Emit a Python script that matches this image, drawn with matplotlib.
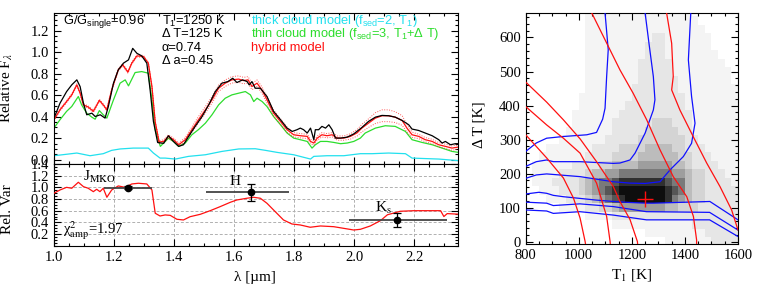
import numpy as np
import matplotlib
matplotlib.use('Agg')
import matplotlib.pyplot as plt
from matplotlib.ticker import MultipleLocator
from matplotlib.colors import ListedColormap, BoundaryNorm

plt.rcParams['font.family'] = ['Liberation Serif', 'DejaVu Serif']
plt.rcParams['mathtext.fontset'] = 'custom'
plt.rcParams['mathtext.rm'] = 'Liberation Sans'
plt.rcParams['mathtext.it'] = 'Liberation Sans:italic'
plt.rcParams['mathtext.bf'] = 'Liberation Sans:bold'

# ---------------- data: spectra ----------------
obs_wl = [1.0, 1.02, 1.042, 1.059, 1.076, 1.087, 1.098, 1.109, 1.126, 1.137, 1.154, 1.17, 1.181, 1.198,
          1.214, 1.231, 1.248, 1.262, 1.276, 1.292, 1.309, 1.32, 1.331, 1.345, 1.365, 1.381, 1.398, 1.415,
          1.431, 1.448, 1.47, 1.493, 1.515, 1.537, 1.559, 1.579, 1.595, 1.609, 1.628, 1.643, 1.65, 1.659,
          1.67, 1.687, 1.709, 1.731, 1.754, 1.776, 1.793, 1.809, 1.82, 1.831, 1.843, 1.854, 1.865, 1.87,
          1.881, 1.892, 1.904, 1.915, 1.926, 1.937, 1.954, 1.976, 1.998, 2.025, 2.047, 2.07, 2.092, 2.114,
          2.136, 2.159, 2.181, 2.192, 2.214, 2.236, 2.259, 2.281, 2.292, 2.303, 2.32, 2.336, 2.347]
obs_flux = [0.387, 0.526, 0.634, 0.696, 0.743, 0.68, 0.526, 0.418, 0.433, 0.402, 0.418, 0.387, 0.495, 0.712,
            0.836, 0.898, 0.929, 1.036, 0.99, 0.966, 0.898, 0.65, 0.356, 0.16, 0.152, 0.223, 0.169, 0.124,
            0.139, 0.216, 0.31, 0.402, 0.51, 0.634, 0.712, 0.727, 0.758, 0.718, 0.743, 0.727, 0.696, 0.727,
            0.665, 0.665, 0.588, 0.45, 0.372, 0.294, 0.263, 0.279, 0.294, 0.279, 0.248, 0.294, 0.186, 0.279,
            0.279, 0.31, 0.294, 0.325, 0.279, 0.201, 0.201, 0.21, 0.24, 0.30, 0.356, 0.396, 0.412, 0.409,
            0.396, 0.365, 0.325, 0.285, 0.272, 0.248, 0.223, 0.186, 0.155, 0.17, 0.139, 0.149, 0.149]

hyb_wl = [1.0, 1.02, 1.042, 1.059, 1.076, 1.087, 1.098, 1.114, 1.131, 1.151, 1.164, 1.176, 1.192, 1.214,
          1.229, 1.246, 1.259, 1.276, 1.298, 1.314, 1.326, 1.337, 1.35, 1.365, 1.381, 1.398, 1.415, 1.437,
          1.459, 1.481, 1.504, 1.526, 1.548, 1.57, 1.592, 1.615, 1.631, 1.646, 1.659, 1.676, 1.693, 1.709,
          1.731, 1.754, 1.776, 1.798, 1.82, 1.843, 1.854, 1.865, 1.876, 1.892, 1.909, 1.926, 1.943, 1.965,
          1.987, 2.009, 2.025, 2.047, 2.07, 2.092, 2.114, 2.136, 2.159, 2.175, 2.192, 2.214, 2.236, 2.259,
          2.281, 2.303, 2.325, 2.347]
hyb_flux = [0.372, 0.464, 0.541, 0.603, 0.696, 0.619, 0.51, 0.49, 0.45, 0.552, 0.51, 0.464, 0.65, 0.836,
            0.882, 0.815, 0.898, 0.966, 0.96, 0.898, 0.681, 0.35, 0.165, 0.17, 0.217, 0.186, 0.139, 0.186,
            0.279, 0.372, 0.464, 0.557, 0.665, 0.712, 0.743, 0.75, 0.736, 0.743, 0.681, 0.712, 0.645, 0.557,
            0.433, 0.356, 0.279, 0.232, 0.223, 0.217, 0.17, 0.155, 0.2, 0.232, 0.223, 0.232, 0.201, 0.201,
            0.217, 0.25, 0.294, 0.34, 0.387, 0.409, 0.409, 0.396, 0.365, 0.294, 0.232, 0.217, 0.186, 0.17,
            0.139, 0.124, 0.108, 0.118]
hyb_err = [0.01, 0.01, 0.01, 0.01, 0.01, 0.01, 0.01, 0.01, 0.01, 0.01, 0.01, 0.01, 0.01, 0.01,
           0.01, 0.01, 0.01, 0.01, 0.01, 0.01, 0.01, 0.01, 0.012, 0.015, 0.015, 0.015, 0.015, 0.02,
           0.025, 0.03, 0.03, 0.03, 0.03, 0.03, 0.03, 0.03, 0.03, 0.03, 0.03, 0.03, 0.03, 0.03,
           0.03, 0.025, 0.025, 0.02, 0.02, 0.02, 0.02, 0.02, 0.02, 0.02, 0.02, 0.02, 0.02, 0.02,
           0.025, 0.03, 0.035, 0.04, 0.05, 0.055, 0.055, 0.05, 0.045, 0.035, 0.025, 0.02, 0.02, 0.02,
           0.02, 0.02, 0.02, 0.02]

thin_wl = [1.0, 1.02, 1.042, 1.059, 1.081, 1.092, 1.109, 1.126, 1.137, 1.151, 1.164, 1.176, 1.198, 1.22,
           1.237, 1.248, 1.27, 1.292, 1.314, 1.326, 1.337, 1.354, 1.365, 1.381, 1.398, 1.415, 1.437, 1.459,
           1.481, 1.504, 1.526, 1.548, 1.57, 1.592, 1.615, 1.637, 1.654, 1.665, 1.676, 1.693, 1.709, 1.731,
           1.754, 1.776, 1.798, 1.82, 1.843, 1.859, 1.87, 1.887, 1.909, 1.931, 1.954, 1.976, 1.998, 2.02,
           2.036, 2.07, 2.103, 2.136, 2.17, 2.192, 2.225, 2.259, 2.292, 2.325, 2.347]
thin_flux = [0.295, 0.372, 0.45, 0.495, 0.588, 0.51, 0.433, 0.396, 0.377, 0.457, 0.418, 0.387, 0.557, 0.712,
             0.743, 0.687, 0.811, 0.82, 0.805, 0.557, 0.279, 0.124, 0.155, 0.2, 0.169, 0.124, 0.155, 0.232,
             0.28, 0.34, 0.418, 0.51, 0.572, 0.603, 0.619, 0.634, 0.603, 0.541, 0.572, 0.541, 0.495, 0.402,
             0.325, 0.248, 0.201, 0.186, 0.17, 0.108, 0.139, 0.17, 0.17, 0.161, 0.149, 0.155, 0.17, 0.201,
             0.248, 0.294, 0.316, 0.31, 0.263, 0.186, 0.161, 0.139, 0.108, 0.077, 0.068]

thick_wl = [1.0, 1.04, 1.076, 1.12, 1.164, 1.192, 1.22, 1.264, 1.314, 1.331, 1.353, 1.37, 1.404, 1.448,
            1.504, 1.559, 1.615, 1.67, 1.704, 1.743, 1.798, 1.854, 1.865, 1.909, 1.965, 2.02, 2.059, 2.114,
            2.17, 2.192, 2.281, 2.347]
thick_flux = [0.037, 0.05, 0.062, 0.037, 0.056, 0.087, 0.1, 0.108, 0.108, 0.062, 0.015, 0.015, 0.006, 0.031,
              0.046, 0.077, 0.1, 0.102, 0.087, 0.068, 0.046, 0.006, 0.031, 0.037, 0.037, 0.056, 0.056, 0.062,
              0.056, 0.015, 0.006, -0.009]

# ---------------- data: relative variability ----------------
var_wl = [1.0, 1.02, 1.042, 1.059, 1.081, 1.098, 1.114, 1.131, 1.142, 1.153, 1.164, 1.176, 1.192, 1.214,
          1.237, 1.259, 1.281, 1.309, 1.326, 1.337, 1.353, 1.37, 1.387, 1.409, 1.431, 1.453, 1.487, 1.52,
          1.553, 1.587, 1.609, 1.642, 1.664, 1.687, 1.709, 1.731, 1.764, 1.792, 1.82, 1.853, 1.887, 1.931,
          1.964, 1.998, 2.02, 2.053, 2.087, 2.11, 2.153, 2.198, 2.25, 2.287, 2.298, 2.309, 2.347]
var_amp = [0.899, 0.955, 1.0, 0.984, 1.087, 1.012, 0.984, 0.926, 0.967, 0.926, 0.984, 0.83, 0.955, 1.024,
           1.0, 1.058, 1.07, 1.058, 0.955, 0.556, 0.509, 0.527, 0.52, 0.453, 0.441, 0.497, 0.538, 0.6,
           0.669, 0.744, 0.784, 0.813, 0.83, 0.813, 0.727, 0.612, 0.441, 0.372, 0.355, 0.316, 0.338, 0.326,
           0.298, 0.269, 0.281, 0.338, 0.43, 0.53, 0.59, 0.6, 0.6, 0.6, 0.5, 0.55, 0.54]

band_names = ['J$_{\\rm MKO}$', 'H', 'K$_{\\rm s}$']
band_wl = [1.246, 1.656, 2.142]
band_amp = [0.995, 0.915, 0.44]
band_err = [0.02, 0.15, 0.12]
band_lo = [1.168, 1.507, 1.981]
band_hi = [1.326, 1.781, 2.31]

# ---------------- data: T1 / Delta T grid (darkness 0-9, '-' = no model) ----------------
t1_edges = np.arange(800, 1601, 25)
dt_edges = np.arange(-12.5, 700, 25)
prob_rows = [  # Delta T = 675 (top) ... 0 (bottom); T1 = 812.5 ... 1587.5
    "0000 0000 0111 1111 1111 1111 1--- ----",
    "0000 0000 0111 1111 1111 1111 11-- ----",
    "0000 0000 0111 1111 1111 1111 111- ----",
    "0000 0000 0111 1111 1112 2111 1111 ----",
    "0000 0000 0111 1111 1122 2111 1111 ----",
    "0000 0000 0111 1111 1122 2111 1111 1---",
    "0000 0000 0111 1111 1222 2211 1111 11--",
    "0000 0000 0111 1111 1222 2211 1111 111-",
    "0000 0000 0111 1111 1222 2221 1111 111-",
    "0000 0000 0111 1111 2222 2221 1111 1111",
    "0000 0000 1111 1111 2222 2222 1111 1111",
    "0000 0000 1111 1112 2222 2222 1111 1111",
    "0000 0001 1111 1122 2222 2222 2111 1111",
    "0000 0001 1111 1222 2223 3322 2111 1111",
    "0000 0011 1111 1222 2233 3332 2111 1111",
    "0000 0111 1111 2222 2333 3333 2211 1111",
    "0001 1111 1122 2233 3344 4433 2221 1111",
    "0011 1111 1222 2333 3444 4443 3222 1111",
    "0111 1112 2223 3444 4555 5544 3222 2111",
    "0111 1222 2344 5566 6666 6655 4332 2211",
    "0111 2222 3456 6788 8888 8766 4332 2221",
    "0011 1222 3456 7899 9999 9876 4332 2222",
    "0001 1122 2345 6789 9999 9865 4332 2222",
    "0000 0111 1223 3455 5555 5443 3322 2222",
    "0000 0000 0111 1222 2222 2222 2222 2222",
    "0000 0000 0000 0111 1111 1111 1222 2222",
    "0000 0000 0000 0000 0011 1111 1112 2222",
    "0000 0000 0000 0000 0000 0111 1111 2222",
]
level_gray = [255, 244, 230, 212, 188, 158, 122, 86, 48, 14]

blue_contours = [
    ([800, 840, 879, 942, 1030, 1067, 1090, 1099, 1105, 1111, 1099, 1097],
     [265, 290, 304, 309, 314, 321, 360, 392, 485, 564, 672, 690]),
    ([800, 840, 879, 904, 1005, 1130, 1155, 1193, 1212, 1250, 1281, 1287, 1281, 1265, 1250, 1248],
     [221, 235, 240, 235, 235, 230, 231, 240, 260, 319, 387, 417, 485, 580, 672, 690]),
    ([800, 840, 879, 1005, 1130, 1193, 1250, 1306, 1344, 1394, 1425, 1438, 1425, 1413, 1422, 1423],
     [186, 196, 199, 191, 176, 172, 171, 176, 211, 250, 289, 348, 427, 534, 672, 690]),
    ([800, 850, 879, 904, 942, 1005, 1067, 1130, 1193, 1255, 1281, 1494, 1600],
     [140, 145, 142, 136, 132, 127, 122, 118, 115, 113, 113, 118, 64]),
    ([800, 879, 904, 1004, 1130, 1255, 1493, 1600],
     [116, 113, 106, 111, 103, 88, 86, 34]),
    ([800, 879, 904, 1004, 1130, 1255, 1493, 1600],
     [93, 90, 83, 88, 78, 64, 64, 15]),
]
red_contours = [
    ([800, 879, 942, 980, 1005, 1024, 1026], [314, 246, 187, 128, 69, 0, -10]),
    ([800, 879, 942, 1005, 1067, 1105, 1118, 1119], [397, 343, 304, 260, 172, 74, 0, -10]),
    ([800, 879, 942, 1005, 1067, 1130, 1155, 1193, 1221, 1222], [469, 410, 358, 302, 235, 162, 118, 65, 0, -10]),
    ([1040, 1049, 1155, 1205, 1256, 1306, 1356, 1407, 1432, 1444, 1444],
     [690, 672, 505, 436, 358, 270, 191, 132, 74, 5, -10]),
    ([1331, 1331, 1350, 1356, 1350, 1381, 1431, 1482, 1532, 1576, 1600],
     [690, 672, 583, 485, 446, 387, 309, 231, 162, 93, 34]),
]
best_t1, best_dt = 1250, 125

# ---------------- figure ----------------
W, H = 761, 289
fig = plt.figure(figsize=(W / 100, H / 100), dpi=100)


def rect(l, t, r, b):
    return [l / W, 1 - b / H, (r - l) / W, (b - t) / H]


ax1 = fig.add_axes(rect(54, 13, 458, 164))
ax2 = fig.add_axes(rect(54, 164, 458, 245.7))
ax3 = fig.add_axes(rect(525.7, 13, 738, 244))

TICKFS = 10.5
for ax in (ax1, ax2, ax3):
    ax.tick_params(which='both', direction='in', top=True, right=True, labelsize=TICKFS, width=0.8)
    ax.tick_params(which='major', length=5)
    ax.tick_params(which='minor', length=2.5)
    for s in ax.spines.values():
        s.set_linewidth(0.8)

CYAN = '#22e0ee'
GREEN = '#2ddd2d'
RED = '#ff1010'

# top panel
ax1.plot(thick_wl, thick_flux, color=CYAN, lw=0.9)
ax1.plot(thin_wl, thin_flux, color=GREEN, lw=0.9)
hf = np.array(hyb_flux)
he = np.array(hyb_err)
ax1.plot(hyb_wl, hf + he, color=RED, lw=0.7, ls=(0, (1, 1.5)), alpha=0.7)
ax1.plot(hyb_wl, hf - he, color=RED, lw=0.7, ls=(0, (1, 1.5)), alpha=0.7)
ax1.plot(hyb_wl, hyb_flux, color=RED, lw=0.9)
ax1.plot(obs_wl, obs_flux, color='k', lw=0.9)
ax1.set_xlim(1.0, 2.345)
ax1.set_ylim(-0.04, 1.365)
ax1.xaxis.set_major_locator(MultipleLocator(0.2))
ax1.xaxis.set_minor_locator(MultipleLocator(0.05))
ax1.yaxis.set_major_locator(MultipleLocator(0.2))
ax1.yaxis.set_minor_locator(MultipleLocator(0.05))
ax1.tick_params(labelbottom=False)
ax1.set_ylabel('Relative F$_\\lambda$', fontsize=11, math_fontfamily='stix')
ax1.yaxis.set_label_coords(-0.097, 0.5)

SANS = dict(fontfamily='Liberation Sans', fontsize=9.3, va='center', transform=ax1.transAxes,
            math_fontfamily='custom')
ax1.text(0.022, 0.944, 'G/G$_{\\mathrm{single}}$=0.96', color='k', **SANS)
ax1.text(0.267, 0.944, 'T$_{\\mathrm{1}}$=1250 K', color='k', **SANS)
ax1.text(0.267, 0.858, '\u0394 T=125 K', color='k', **SANS)
ax1.text(0.267, 0.770, '\u03b1=0.74', color='k', **SANS)
ax1.text(0.267, 0.680, '\u0394 a=0.45', color='k', **SANS)
ax1.text(0.487, 0.947, 'thick cloud model (f$_{\\mathrm{sed}}$=2, T$_{\\mathrm{1}}$)', color=CYAN, **SANS)
ax1.text(0.487, 0.859, 'thin cloud model (f$_{\\mathrm{sed}}$=3, T$_{\\mathrm{1}}$+\u0394 T)', color=GREEN, **SANS)
ax1.text(0.487, 0.770, 'hybrid model', color=RED, **SANS)

# lower panel
ax2.plot(var_wl, var_amp, color=RED, lw=0.9, zorder=3)
ax2.hlines(band_amp, band_lo, band_hi, color='#444444', lw=1.3, zorder=4)
ax2.errorbar(band_wl, band_amp, yerr=band_err, fmt='o', color='k', ms=4.5, capsize=3,
             elinewidth=0.9, capthick=0.9, zorder=5)
ax2.set_xlim(1.0, 2.345)
ax2.set_ylim(0, 1.4)
ax2.xaxis.set_major_locator(MultipleLocator(0.2))
ax2.xaxis.set_minor_locator(MultipleLocator(0.05))
ax2.yaxis.set_major_locator(MultipleLocator(0.2))
ax2.yaxis.set_minor_locator(MultipleLocator(0.05))
ax2.set_yticks([0.2, 0.4, 0.6, 0.8, 1.0, 1.2, 1.4])
ax2.grid(True, which='major', ls=(0, (3, 2)), color='#b0b0b0', lw=0.7)
ax2.set_ylabel('Rel. Var', fontsize=11)
ax2.yaxis.set_label_coords(-0.1, 0.45)
ax2.set_xlabel('\u03bb [\u00b5m]', fontsize=11)
ax2.xaxis.set_label_coords(0.4975, -0.31)
label_pos = [(1.097, 1.17, 'left'), (1.603, 1.10, 'center'), (2.07, 0.64, 'left')]
for name, (lx, ly, ha) in zip(band_names, label_pos):
    ax2.text(lx, ly, name, fontsize=11, ha=ha, va='center', math_fontfamily='stix')
ax2.text(1.03, 0.26, '\u03c7$^2_{\\rm amp}$=1.97', fontsize=10.5, va='center', math_fontfamily='stix')

# right panel
grid = np.array([[np.nan if c == '-' else float(c) for c in r.replace(' ', '')] for r in prob_rows[::-1]])
cmap = ListedColormap([(g / 255, g / 255, g / 255) for g in level_gray])
norm = BoundaryNorm(np.arange(-0.5, 10, 1), cmap.N)
ax3.pcolormesh(t1_edges, dt_edges, grid, cmap=cmap, norm=norm, shading='flat', zorder=1)
for xs, ys in blue_contours:
    ax3.plot(xs, ys, color='#1010ff', lw=0.9, zorder=3)
for xs, ys in red_contours:
    ax3.plot(xs, ys, color=RED, lw=0.9, zorder=3)
ax3.plot([best_t1], [best_dt], marker='+', color=RED, ms=12, mew=1.0, zorder=4)
ax3.set_xlim(800, 1600)
ax3.set_ylim(-7, 672)
ax3.xaxis.set_major_locator(MultipleLocator(200))
ax3.xaxis.set_minor_locator(MultipleLocator(50))
ax3.yaxis.set_major_locator(MultipleLocator(100))
ax3.yaxis.set_minor_locator(MultipleLocator(20))
ax3.set_xlabel('T$_1$ [K]', fontsize=11, math_fontfamily='stix')
ax3.xaxis.set_label_coords(0.5, -0.10)
ax3.set_ylabel('\u0394 T [K]', fontsize=11)
ax3.yaxis.set_label_coords(-0.187, 0.515)

fig.savefig('out.png', dpi=100)
